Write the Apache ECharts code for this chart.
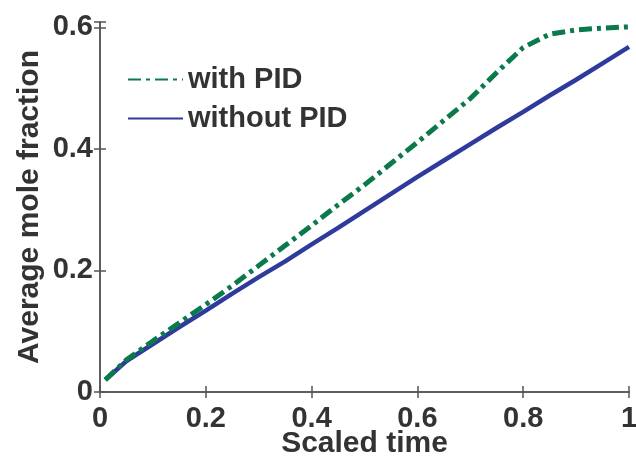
<!DOCTYPE html>
<html>
<head>
<meta charset="utf-8">
<script type="text/javascript" src="https://cdn.jsdelivr.net/npm/echarts@6/dist/echarts.min.js"></script>
<title></title>
</head>
<body style="margin:0;">
	<div id="main" style="width: 636px; height: 460px;"></div>

	<script type="text/javascript">
		// scaled time (x) and average mole fraction (y)
		var times = [0.01, 0.05, 0.1, 0.15, 0.2, 0.25, 0.3, 0.35, 0.4, 0.45, 0.5,
		             0.55, 0.6, 0.65, 0.7, 0.75, 0.8, 0.85, 0.9, 0.95, 1.0];
		var withPid = [0.02, 0.053, 0.084, 0.114, 0.144, 0.175, 0.208, 0.241, 0.274, 0.308, 0.341,
		               0.376, 0.411, 0.447, 0.483, 0.526, 0.567, 0.589, 0.596, 0.599, 0.601];
		var withoutPid = [0.02, 0.051, 0.079, 0.107, 0.134, 0.162, 0.189, 0.215, 0.243, 0.27, 0.298,
		                  0.326, 0.354, 0.381, 0.408, 0.435, 0.461, 0.488, 0.514, 0.541, 0.568];
		var xTicks = ['0', '0.2', '0.4', '0.6', '0.8', '1'];
		var yTicks = ['0', '0.2', '0.4', '0.6'];
		var seriesNames = ['with PID', 'without PID'];

		function pairs(ys) {
			var out = [];
			for (var i = 0; i < times.length; i++) {
				out.push([times[i], ys[i]]);
			}
			return out;
		}

		// only label the 0.2 steps, skip the extra tick ECharts puts at max
		function tickText(list, v) {
			var k = Math.round(v / 0.2);
			if (Math.abs(v - k * 0.2) > 1e-6) return '';
			return list[k] || '';
		}

		var font = 'Liberation Sans, Arial, sans-serif';
		var axisLine = { show: true, lineStyle: { color: '#555', width: 1.5 } };
		var tickIn = { show: true, inside: true, length: 6, lineStyle: { color: '#555', width: 1.5 } };

		var myChart = echarts.init(document.getElementById('main'));
		myChart.setOption({
			backgroundColor: '#fff',
			animation: false,
			grid: { left: 100, right: 7, top: 22, bottom: 68, outerBoundsMode: 'none', containLabel: false },
			legend: {
				orient: 'vertical',
				left: 122,
				top: 60,
				itemGap: 10,
				itemWidth: 55,
				itemHeight: 14,
				data: seriesNames,
				itemStyle: { opacity: 0 },
				textStyle: { fontFamily: font, fontWeight: 'bold', fontSize: 29, color: '#333' }
			},
			xAxis: [{
				type: 'value',
				min: 0, max: 1, interval: 0.2,
				name: 'Scaled time',
				nameLocation: 'middle',
				nameGap: 37,
				nameMoveOverlap: false,
				nameTextStyle: { fontFamily: font, fontWeight: 'bold', fontSize: 30, color: '#333' },
				axisLine: axisLine,
				axisTick: tickIn,
				splitLine: { show: false },
				axisLabel: {
					margin: 12,
					fontFamily: font, fontWeight: 'bold', fontSize: 29, color: '#333',
					formatter: function (v) { return tickText(xTicks, v); }
				}
			}, {
				type: 'value', position: 'top',
				min: 0, max: 1, interval: 0.2,
				axisLine: axisLine, axisTick: tickIn,
				axisLabel: { show: false }, splitLine: { show: false }
			}],
			yAxis: [{
				type: 'value',
				min: 0, max: 0.609, interval: 0.2,
				name: 'Average mole fraction',
				nameLocation: 'middle',
				nameGap: 55,
				nameMoveOverlap: false,
				nameTextStyle: { fontFamily: font, fontWeight: 'bold', fontSize: 30, color: '#333' },
				axisLine: axisLine,
				axisTick: tickIn,
				splitLine: { show: false },
				axisLabel: {
					margin: 7,
					fontFamily: font, fontWeight: 'bold', fontSize: 29, color: '#333',
					formatter: function (v) { return tickText(yTicks, v); }
				}
			}, {
				type: 'value', position: 'right',
				min: 0, max: 0.609, interval: 0.2,
				axisLine: axisLine, axisTick: tickIn,
				axisLabel: { show: false }, splitLine: { show: false }
			}],
			series: [{
				name: seriesNames[0],
				type: 'line',
				symbol: 'none',
				data: pairs(withPid),
				lineStyle: { color: '#0b7a4b', width: 5, type: [13, 5, 4, 5] },
				itemStyle: { color: '#0b7a4b' },
				z: 3
			}, {
				name: seriesNames[1],
				type: 'line',
				symbol: 'none',
				data: pairs(withoutPid),
				lineStyle: { color: '#2e3b9c', width: 4.5 },
				itemStyle: { color: '#2e3b9c' },
				z: 2
			}]
		});
	</script>
</body>
</html>
